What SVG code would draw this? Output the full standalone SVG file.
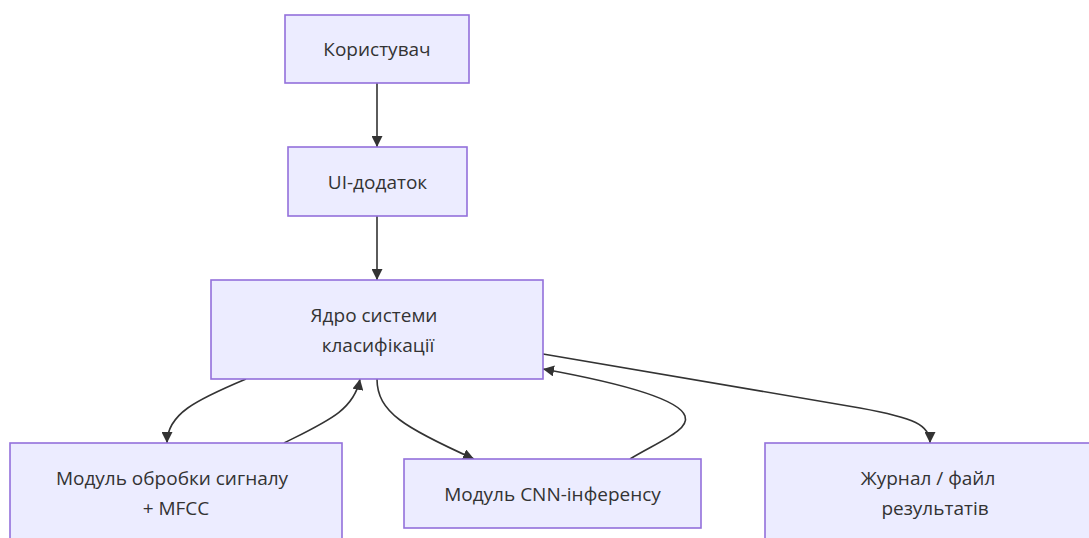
<svg xmlns="http://www.w3.org/2000/svg" width="1089" height="538" viewBox="0 0 1089 538">
  <style>
    .node rect { fill: #ECECFF; stroke: #9370DB; stroke-width: 1.6; }
    .node text { font-family: "Open Sans", "Noto Sans", "DejaVu Sans", sans-serif; font-size: 19px; fill: #333333; text-anchor: middle; dominant-baseline: central; }
    .edge { fill: none; stroke: #333333; stroke-width: 1.6; marker-end: url(#arrow); }
  </style>
  <defs>
    <marker id="arrow" viewBox="0 0 10 10" refX="10" refY="5" markerWidth="11" markerHeight="11" markerUnits="userSpaceOnUse" orient="auto">
      <path d="M0,0 L10,5 L0,10 z" fill="#333333"/>
    </marker>
  </defs>
  <rect width="1089" height="538" fill="#ffffff"/>

  <g id="connectors">
    <path class="edge" d="M377,83 L377,147"/>
    <path class="edge" d="M377,216 L377,280"/>
    <path class="edge" d="M246,379 C196,400 167,414 167,443"/>
    <path class="edge" d="M284,443 C328,421 354,410 360,379"/>
    <path class="edge" d="M377,379 C377,412 405,428 474,459"/>
    <path class="edge" d="M630,459 C660,441 690,430 685,416 C679,399 620,383 543,369"/>
    <path class="edge" d="M543,354 L860,408 C915,418 930,425 930,443"/>
  </g>

  <g id="user" class="node">
    <rect x="285" y="15" width="184" height="68"/>
    <text x="377" y="49">Користувач</text>
  </g>
  <g id="ui-app" class="node">
    <rect x="288" y="147" width="179" height="69"/>
    <text x="377.5" y="181.5">UI-додаток</text>
  </g>
  <g id="core" class="node">
    <rect x="211" y="280" width="332" height="99"/>
    <text x="374" y="314.5">Ядро системи</text>
    <text x="378" y="344.5">класифікації</text>
  </g>
  <g id="signal" class="node">
    <rect x="10" y="443" width="332" height="99"/>
    <text x="172" y="477.5">Модуль обробки сигналу</text>
    <text x="176" y="507.5">+ MFCC</text>
  </g>
  <g id="cnn" class="node">
    <rect x="404" y="459" width="297" height="69"/>
    <text x="552.5" y="493.5">Модуль CNN-інференсу</text>
  </g>
  <g id="log" class="node">
    <rect x="765" y="443" width="332" height="99"/>
    <text x="928" y="477.5">Журнал / файл</text>
    <text x="935" y="507.5">результатів</text>
  </g>
</svg>
